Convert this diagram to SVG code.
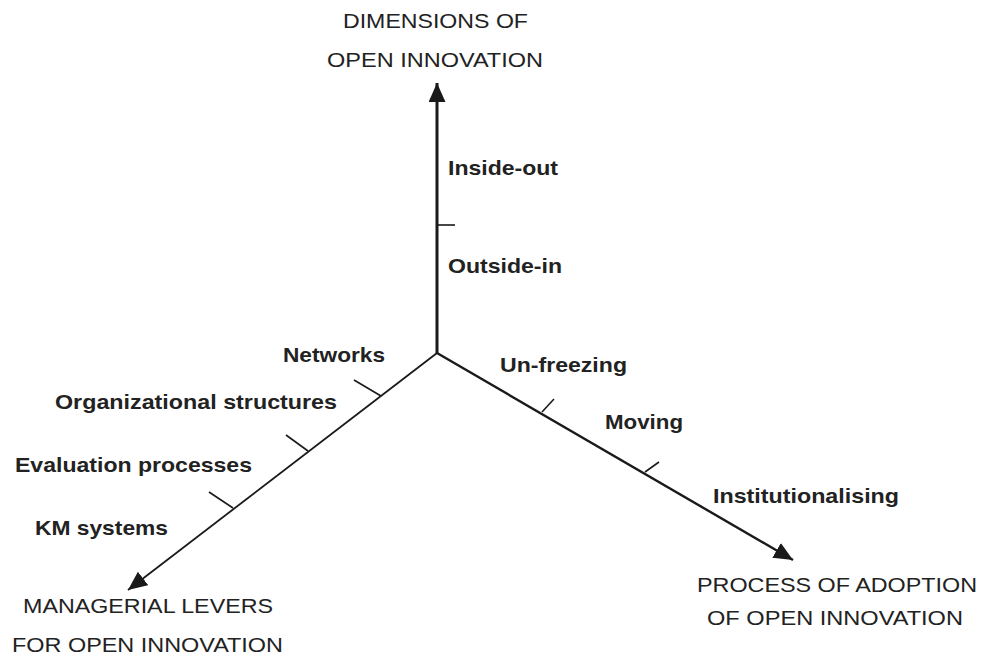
<svg xmlns="http://www.w3.org/2000/svg" width="981" height="657" viewBox="0 0 981 657">
<style>
.title{font-family:"Liberation Sans",Arial,sans-serif;font-size:21px;fill:#222}
.lab{font-family:"Liberation Sans",Arial,sans-serif;font-size:21px;font-weight:bold;fill:#222}
.ax{stroke:#1a1a1a;fill:none;stroke-linecap:butt}
.tick{stroke:#1a1a1a;stroke-width:1.6;fill:none}
</style>
<defs>
<marker id="ah" markerUnits="userSpaceOnUse" markerWidth="22" markerHeight="18" refX="19" refY="8.5" orient="auto">
<path d="M0,0 L19,8.5 L0,17 Z" fill="#1a1a1a"/>
</marker>
</defs>
<rect width="981" height="657" fill="#fff"/>
<g id="connectors">
<line class="ax" x1="437" y1="354" x2="437" y2="83" stroke-width="3" marker-end="url(#ah)"/>
<line class="ax" x1="437" y1="353" x2="793" y2="560" stroke-width="2.4" marker-end="url(#ah)"/>
<line class="ax" x1="437" y1="353" x2="128" y2="590" stroke-width="1.8" marker-end="url(#ah)"/>
<line class="tick" x1="437" y1="225" x2="455" y2="225"/>
<line class="tick" x1="542" y1="412" x2="554" y2="399"/>
<line class="tick" x1="645" y1="472" x2="659" y2="462"/>
<line class="tick" x1="381" y1="396" x2="354" y2="380"/>
<line class="tick" x1="308" y1="451" x2="286" y2="435"/>
<line class="tick" x1="233" y1="508" x2="209" y2="492"/>
</g>
<g id="dimensions">
<text class="title" x="343" y="28" textLength="185" lengthAdjust="spacingAndGlyphs">DIMENSIONS OF</text>
<text class="title" x="327" y="67" textLength="216" lengthAdjust="spacingAndGlyphs">OPEN INNOVATION</text>
</g>
<g id="levers">
<text class="title" x="23" y="613" textLength="250" lengthAdjust="spacingAndGlyphs">MANAGERIAL LEVERS</text>
<text class="title" x="12" y="652" textLength="271" lengthAdjust="spacingAndGlyphs">FOR OPEN INNOVATION</text>
</g>
<g id="process">
<text class="title" x="697" y="592" textLength="280" lengthAdjust="spacingAndGlyphs">PROCESS OF ADOPTION</text>
<text class="title" x="707" y="625" textLength="256" lengthAdjust="spacingAndGlyphs">OF OPEN INNOVATION</text>
</g>
<g id="inside-out"><text class="lab" x="448" y="175" textLength="110" lengthAdjust="spacingAndGlyphs">Inside-out</text></g>
<g id="outside-in"><text class="lab" x="448" y="273" textLength="114" lengthAdjust="spacingAndGlyphs">Outside-in</text></g>
<g id="un-freezing"><text class="lab" x="500" y="372" textLength="127" lengthAdjust="spacingAndGlyphs">Un-freezing</text></g>
<g id="moving"><text class="lab" x="605" y="429" textLength="78" lengthAdjust="spacingAndGlyphs">Moving</text></g>
<g id="institutionalising"><text class="lab" x="713" y="503" textLength="186" lengthAdjust="spacingAndGlyphs">Institutionalising</text></g>
<g id="networks"><text class="lab" x="283" y="362" textLength="102" lengthAdjust="spacingAndGlyphs">Networks</text></g>
<g id="org-structures"><text class="lab" x="55" y="409" textLength="282" lengthAdjust="spacingAndGlyphs">Organizational structures</text></g>
<g id="evaluation"><text class="lab" x="15" y="472" textLength="237" lengthAdjust="spacingAndGlyphs">Evaluation processes</text></g>
<g id="km-systems"><text class="lab" x="35" y="535" textLength="133" lengthAdjust="spacingAndGlyphs">KM systems</text></g>
</svg>
